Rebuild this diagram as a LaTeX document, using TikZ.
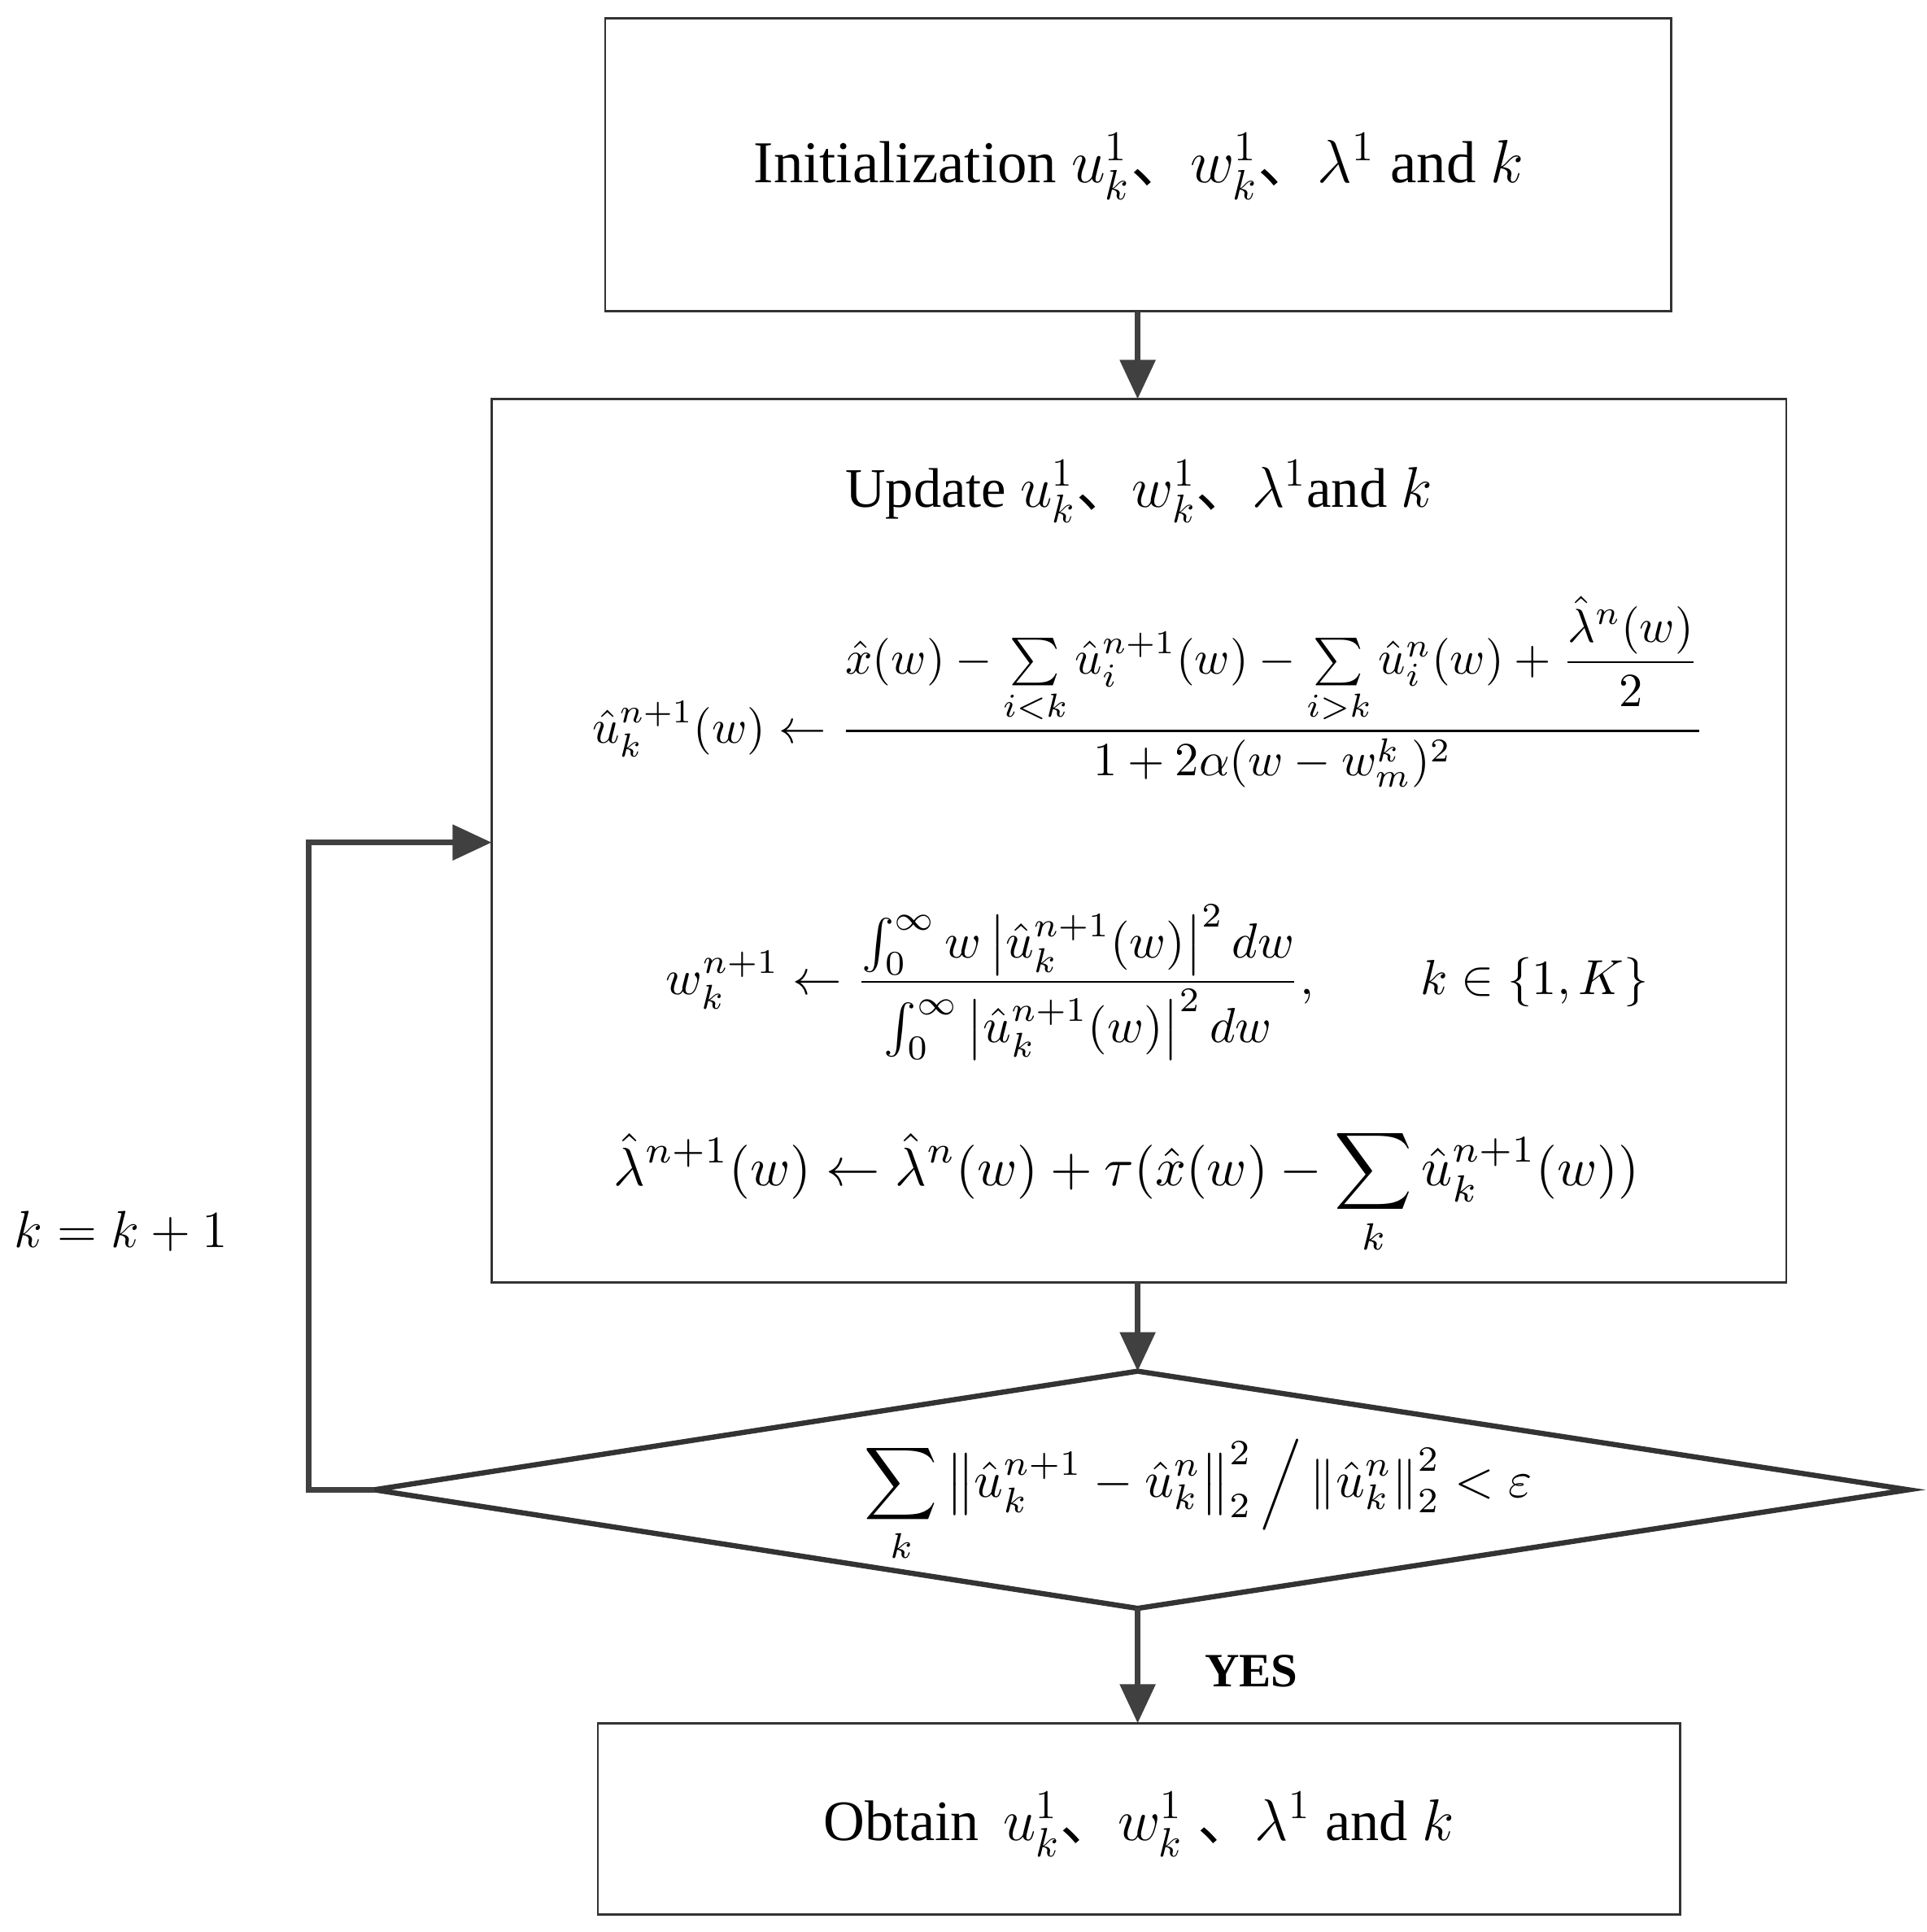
\documentclass[tikz,border=0pt]{standalone}
\usepackage{amsmath}
\usepackage{graphicx}
\usepackage{fontspec}
\setmainfont{Liberation Serif}
\newfontfamily\cjk{Noto Sans CJK SC}
\usetikzlibrary{arrows.meta}
\newcommand{\dn}{{\cjk 、}}
\begin{document}
\begin{tikzpicture}[x=0.01cm,y=-0.01cm,
  box/.style={draw=black!80,line width=0.5pt},
  arr/.style={draw=black!75,line width=1.3pt,-{Triangle[length=9pt,width=8pt]}},
  txt/.style={font=\fontsize{14}{17}\selectfont,inner sep=0pt},
  eq/.style={inner sep=0pt}]
\useasboundingbox (0,0) rectangle (1560,1564);
\draw[box] (490,15) rectangle (1353,252);
\node[txt] (t1) at (922,135) {\resizebox{6.23cm}{!}{Initialization $u_k^1$\dn$w_k^1$\dn$\lambda^1$ and $k$}};
\draw[box] (398,323) rectangle (1446,1038);
\coordinate (b1s) at (921,252); \coordinate (b2n) at (921,323);
\draw[arr] (b1s) -- (b2n);
\node[txt] (t2) at (922,398) {\resizebox{4.75cm}{!}{Update $u_k^1$\dn$w_k^1$\dn$\lambda^1$and $k$}};
\node[eq] (e1) at (930,560) {\resizebox{9cm}{!}{$\displaystyle \hat u_k^{n+1}(w)\leftarrow\frac{\hat x(w)-\sum\limits_{i<k}\hat u_i^{n+1}(w)-\sum\limits_{i>k}\hat u_i^{n}(w)+\dfrac{\hat\lambda^n(w)}{2}}{1+2\alpha(w-w_m^k)^2}$}};
\node[eq] (e2) at (937,795) {\resizebox{7.95cm}{!}{$\displaystyle w_k^{n+1}\leftarrow\frac{\int_0^\infty w\left|\hat u_k^{n+1}(w)\right|^2dw}{\int_0^\infty\left|\hat u_k^{n+1}(w)\right|^2dw},\qquad k\in\{1,K\}$}};
\node[eq] (e3) at (912,965) {\resizebox{8.3cm}{!}{$\displaystyle \hat\lambda^{n+1}(w)\leftarrow\hat\lambda^{n}(w)+\tau(\hat x(w)-\sum_k\hat u_k^{n+1}(w))$}};
\coordinate (b2s) at (921,1038);
\coordinate (dt) at (921,1110);
\coordinate (dl) at (303,1206); \coordinate (dr) at (1545,1206); \coordinate (db) at (921,1302);
\draw[draw=black!80,line width=1.2pt] (dt) -- (dr) -- (db) -- (dl) -- cycle;
\draw[arr] (b2s) -- (dt);
\node[eq] (e4) at (970,1215) {\resizebox{5.4cm}{!}{$\displaystyle \sum_k\left\|\hat u_k^{n+1}-\hat u_k^n\right\|_2^2\Big/\left\|\hat u_k^n\right\|_2^2<\varepsilon$}};
\coordinate (c1) at (250,1206); \coordinate (c2) at (250,682); \coordinate (b2w) at (398,682);
\draw[arr] (dl) -- (c1) -- (c2) -- (b2w);
\node[txt] (kk) at (98,997) {\resizebox{1.73cm}{!}{$k=k+1$}};
\draw[box] (484,1395) rectangle (1360,1550);
\coordinate (b3n) at (921,1395);
\draw[arr] (db) -- (b3n);
\node[font=\fontsize{11}{13}\selectfont\bfseries] (yes) at (1013,1353) {YES};
\node[txt] (t3) at (922,1477) {\resizebox{5.1cm}{!}{Obtain \,$u_k^1$\dn$w_k^1$\ \dn$\lambda^1$ and $k$}};
\end{tikzpicture}
\end{document}
